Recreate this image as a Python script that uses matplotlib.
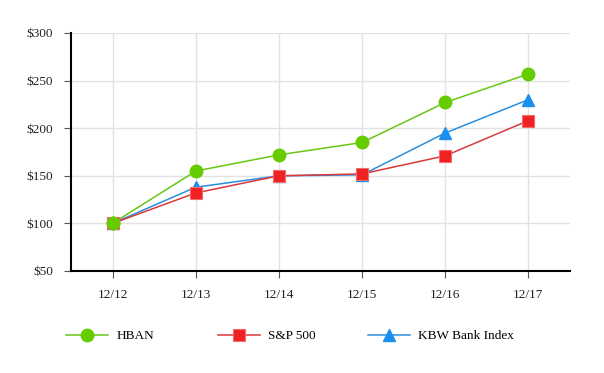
import numpy as np
import matplotlib.pyplot as plt

# data
years = ["12/12", "12/13", "12/14", "12/15", "12/16", "12/17"]
hban = [100, 155, 172, 185, 227, 257]
sp500 = [100, 132, 150, 152, 171, 208]
kbw = [100, 138, 150, 151, 195, 230]
yticks = [50, 100, 150, 200, 250, 300]

plt.rcParams['font.family'] = ['Liberation Serif', 'DejaVu Serif']

fig = plt.figure(figsize=(6.04, 3.73), dpi=100)
ax = fig.add_axes([71/604, 1 - 271/373, (570 - 71)/604, (271 - 33)/373])

x = np.arange(len(years))
l1, = ax.plot(x, hban, color="#66c814", lw=1.1, marker="o", ms=9,
              mfc="#66cc00", mec="#66cc00", label="HBAN", zorder=3)
l2, = ax.plot(x, sp500, color="#d83a3a", lw=1.1, marker="s", ms=9,
              mfc="#ee2222", mec="#f56a6a", mew=0.8, label="S&P 500", zorder=4)
l3, = ax.plot(x, kbw, color="#2a8fe0", lw=1.1, marker="^", ms=9,
              mfc="#1a8ff0", mec="#1a8ff0", label="KBW Bank Index", zorder=3)
# redraw HBAN first point on top like the reference
ax.plot(x[:1], hban[:1], ls="none", marker="o", ms=9, color="#66cc00", zorder=5)

ax.set_xlim(-0.5, len(years) - 0.5)
ax.set_ylim(50, 300)
ax.set_xticks(x)
ax.set_xticklabels(years)
ax.set_yticks(yticks)
ax.set_yticklabels(["$" + str(v) for v in yticks])
ax.grid(True, color="#e2e2e2", lw=1)
ax.set_axisbelow(True)

for s in ["top", "right"]:
    ax.spines[s].set_visible(False)
ax.spines["left"].set_linewidth(1.5)
ax.spines["bottom"].set_linewidth(1.5)
ax.tick_params(axis="both", length=5, width=0.8, color="#555555",
               labelsize=9.5, labelcolor="#222222")
ax.tick_params(axis="x", pad=8)
ax.tick_params(axis="y", pad=8)

# legend: one entry per slot, evenly spaced
for h, xpos in zip([l1, l2, l3], [66/604, 218/604, 368/604]):
    fig.legend(handles=[h], loc="center left", bbox_to_anchor=(xpos, 1 - 336/373),
               frameon=False, fontsize=9.5, handlelength=3.2, handletextpad=0.6,
               borderaxespad=0, borderpad=0)

fig.savefig("out.png", dpi=100)
